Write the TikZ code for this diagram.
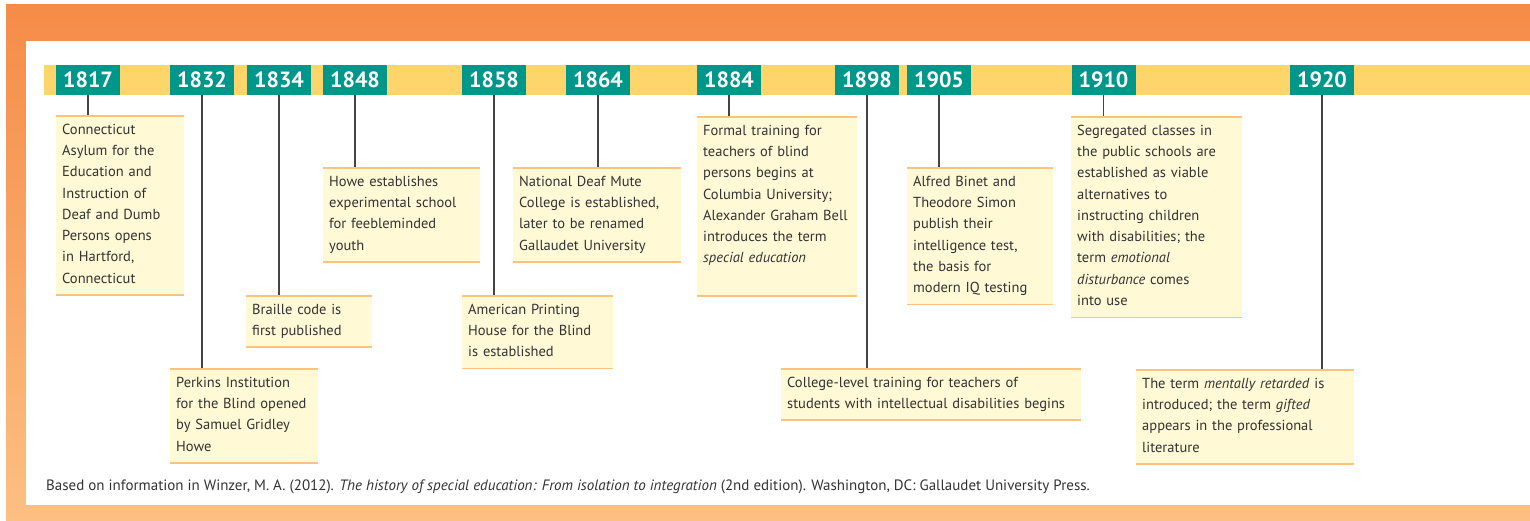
\documentclass[tikz,border=0pt]{standalone}
\usepackage{fontspec}
\setmainfont{PT Sans}
\usetikzlibrary{positioning}
\definecolor{frametop}{HTML}{F58C48}
\definecolor{framebot}{HTML}{FCC082}
\definecolor{barfill}{HTML}{FDD56B}
\definecolor{yearteal}{HTML}{00978B}
\definecolor{notefill}{HTML}{FFF9D6}
\definecolor{noteedge}{HTML}{FBC37E}
\definecolor{stemgray}{HTML}{444444}
\definecolor{inkgray}{HTML}{333333}
\newcommand\notefont{\fontsize{14.5}{21.3}\selectfont}
\newcommand\topstrut{\rule{0pt}{13pt}}
\newcommand\botstrut{\rule[-6.5pt]{0pt}{6.5pt}}

\begin{document}
\begin{tikzpicture}[x=1pt,y=-1pt,
  yearbox/.style={fill=yearteal,text=white,font=\fontsize{22}{26}\selectfont\bfseries,minimum width=64pt,minimum height=30pt,inner sep=0pt},
  note/.style={fill=notefill,text=inkgray,font=\notefont,anchor=north west,align=left,inner xsep=6pt,inner ysep=5pt,text width={(#1-12)*1pt},execute at begin node={\hyphenpenalty=10000\topstrut},execute at end node=\botstrut},
  stem/.style={draw=stemgray,line width=1.3pt},
  noterule/.style={draw=noteedge,line width=1.6pt}]
\useasboundingbox (0,0) rectangle (1530,521);
\shade[top color=frametop,bottom color=framebot] (6,5) rectangle (1530,521);
\fill[white] (26,41) rectangle (1530,505);
\fill[barfill] (44,65) rectangle (1530,95);
\node[yearbox] (y1817) at (88,80) {1817};
\node[yearbox] (y1832) at (202,80) {1832};
\node[yearbox] (y1834) at (279,80) {1834};
\node[yearbox] (y1848) at (355,80) {1848};
\node[yearbox] (y1858) at (494,80) {1858};
\node[yearbox] (y1864) at (598,80) {1864};
\node[yearbox] (y1884) at (729,80) {1884};
\node[yearbox] (y1898) at (867,80) {1898};
\node[yearbox] (y1905) at (939,80) {1905};
\node[yearbox] (y1910) at (1103.5,80) {1910};
\node[yearbox] (y1920) at (1322,80) {1920};
\node[note=128] (n1817) at (56,116) {Connecticut\\Asylum for the\\Education and\\Instruction of\\Deaf and Dumb\\Persons opens\\in Hartford,\\Connecticut};
\node[note=148] (n1832) at (170,369) {Perkins Institution\\for the Blind opened\\by Samuel Gridley\\Howe};
\node[note=126] (n1834) at (246,296) {Braille code is\\first published};
\node[note=157] (n1848) at (323,168) {Howe establishes\\experimental school\\for feebleminded\\youth};
\node[note=151] (n1858) at (462,296) {American Printing\\House for the Blind\\is established};
\node[note=168] (n1864) at (513,168) {National Deaf Mute\\College is established,\\later to be renamed\\Gallaudet University};
\node[note=160] (n1884) at (697,117) {Formal training for\\teachers of blind\\persons begins at\\Columbia University;\\Alexander Graham Bell\\introduces the term\\\textit{special education}\\~};
\node[note=300] (n1898) at (781,369) {College-level training for teachers of\\students with intellectual disabilities begins};
\node[note=146] (n1905) at (907,168) {Alfred Binet and\\Theodore Simon\\publish their\\intelligence test,\\the basis for\\modern IQ testing};
\node[note=171] (n1910) at (1071,117) {Segregated classes in\\the public schools are\\established as viable\\alternatives to\\instructing children\\with disabilities; the\\term \textit{emotional}\\\textit{disturbance} comes\\into use};
\node[note=218] (n1920) at (1136,370) {The term \textit{mentally retarded} is\\introduced; the term \textit{gifted}\\appears in the professional\\literature};
\foreach \n in {1817,1832,1834,1848,1858,1864,1884,1898,1905,1910,1920}{
  \draw[stem] (y\n.south) -- (y\n.south |- n\n.north);
  \draw[noterule] (n\n.north west) -- (n\n.north east) (n\n.south west) -- (n\n.south east);
}
\node[anchor=base west,inner sep=0pt,text=inkgray,font=\fontsize{15}{18}\selectfont] (source) at (46,490) {Based on information in Winzer, M. A. (2012). \textit{The history of special education: From isolation to integration} (2nd edition). Washington, DC: Gallaudet University Press.};
\end{tikzpicture}
\end{document}
